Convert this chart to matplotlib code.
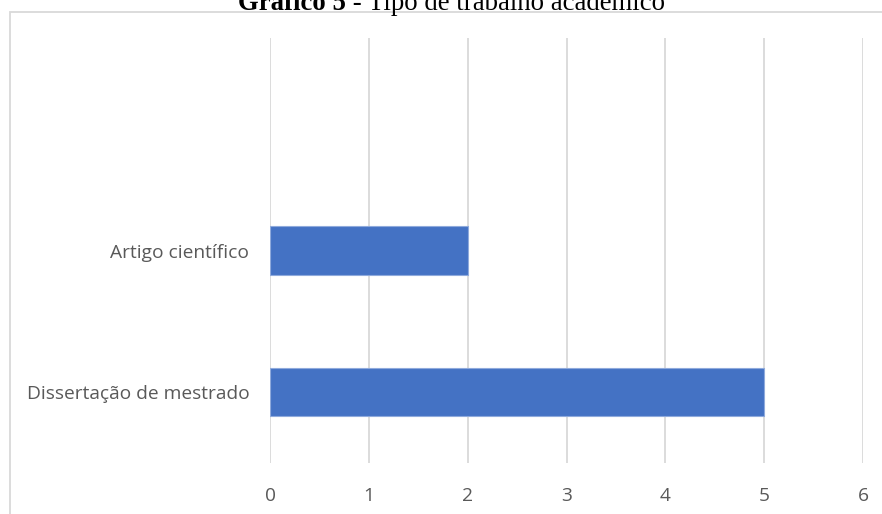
import matplotlib
matplotlib.use("Agg")
import matplotlib.pyplot as plt
from matplotlib.patches import Rectangle

# dados
categorias = ["Dissertação de mestrado", "Artigo científico", ""]
valores = [5, 2, 0]
ticks_x = [0, 1, 2, 3, 4, 5, 6]

W, H = 882, 514
fig = plt.figure(figsize=(W / 100, H / 100), dpi=100)

# moldura do grafico (cortada a direita e embaixo)
fig.patches.append(Rectangle((10 / W, -0.1), 1.0, 1 - 12 / H + 0.1,
                             transform=fig.transFigure, fill=False,
                             edgecolor="#d9d9d9", linewidth=1.3))

ax = fig.add_axes([270 / W, 1 - 463 / H, 593 / W, 425 / H])
ax.barh(range(len(categorias)), valores, height=0.34, color="#4472C4",
        edgecolor="#8faadc", linewidth=[0.8 if v else 0 for v in valores],
        zorder=3)
ax.set_xlim(0, 6)
ax.set_ylim(-0.5, len(categorias) - 0.5)
ax.set_xticks(ticks_x)
ax.set_yticks(range(len(categorias)))
ax.set_yticklabels(categorias)
ax.grid(axis="x", color="#d9d9d9", linewidth=1.3, zorder=0)
for s in ax.spines.values():
    s.set_visible(False)
ax.tick_params(axis="both", length=0, labelsize=13.8, labelcolor="#595959")
ax.tick_params(axis="x", pad=17)
ax.tick_params(axis="y", pad=15)
for lb in ax.get_xticklabels() + ax.get_yticklabels():
    lb.set_family("Open Sans")

# titulo: parte em negrito + parte normal
fig.canvas.draw()
r = fig.canvas.get_renderer()
t1 = fig.text(238 / W, 1 - 10 / H, "Gráfico 5", family="Liberation Serif",
              weight="bold", fontsize=19.3, va="baseline", ha="left")
bb = t1.get_window_extent(r)
fig.text(bb.x1 / W, 1 - 10 / H, " - Tipo de trabalho acadêmico",
         family="Liberation Serif", fontsize=19.3, va="baseline", ha="left")

fig.savefig("out.png", dpi=100)
